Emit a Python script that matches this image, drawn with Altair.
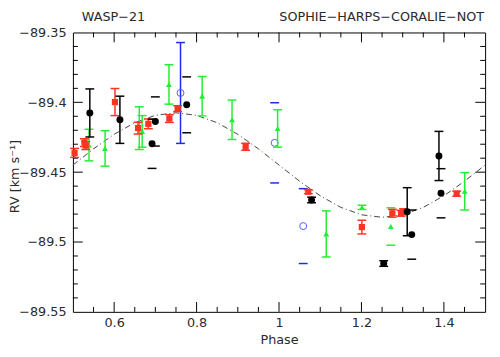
import altair as alt
import pandas as pd

# ---------------- data ----------------
# red filled squares
red_phase = [0.504, 0.528, 0.531, 0.602, 0.658, 0.683, 0.734, 0.754, 0.919, 1.071, 1.201, 1.275, 1.296, 1.302, 1.431]
red_rv = [-89.4362, -89.4288, -89.4310, -89.3998, -89.4184, -89.4154, -89.4116, -89.4045, -89.4318, -89.4640, -89.4893, -89.4794, -89.4794, -89.4783, -89.4654]
red_err = [0.0032, 0.0028, 0.0028, 0.0097, 0.0042, 0.0035, 0.0028, 0.0021, 0.0025, 0.0014, 0.0049, 0.0028, 0.0021, 0.0021, 0.0018]
red_line = [True] * 15

# black filled circles
blk_phase = [0.541, 0.614, 0.692, 0.700, 0.776, 1.079, 1.254, 1.311, 1.322, 1.388, 1.393]
blk_rv = [-89.4076, -89.4125, -89.4297, -89.4137, -89.4018, -89.4699, -89.5154, -89.4783, -89.4947, -89.4384, -89.4651]
blk_err = [0.0172, 0.0169, 0.0176, 0.0176, 0.0200, 0.0020, 0.0020, 0.0172, 0.0176, 0.0176, 0.0176]
blk_line = [True, True, False, False, False, False, False, True, False, True, False]

# green filled triangles
grn_phase = [0.539, 0.578, 0.661, 0.668, 0.733, 0.8135, 0.886, 0.9966, 1.1146, 1.2013, 1.2713, 1.4505]
grn_rv = [-89.4306, -89.4330, -89.4185, -89.4208, -89.3872, -89.3956, -89.4125, -89.4187, -89.4942, -89.4752, -89.4889, -89.4637]
grn_err = [0.0113, 0.0127, 0.0153, 0.0113, 0.0141, 0.0141, 0.0141, 0.0134, 0.0165, 0.0015, 0.0134, 0.0134]
grn_line = [True, True, True, True, True, True, True, True, True, False, False, True]

# blue open circles
blu_phase = [0.761, 0.9894, 1.0587]
blu_rv = [-89.3933, -89.4290, -89.4886]
blu_err = [0.0361, 0.0287, 0.0268]
blu_line = [True, False, False]

# model curve (read at regular phase steps)
curve_phase = [0.50, 0.55, 0.60, 0.65, 0.70, 0.75, 0.80, 0.85, 0.90, 0.95, 1.00,
               1.05, 1.10, 1.15, 1.20, 1.25, 1.30, 1.35, 1.40, 1.45, 1.50]
curve_rv = [-89.4449, -89.4333, -89.4229, -89.4146, -89.4093, -89.4075, -89.4093, -89.4146,
            -89.4229, -89.4333, -89.4449, -89.4565, -89.4669, -89.4752, -89.4805, -89.4823,
            -89.4805, -89.4752, -89.4669, -89.4565, -89.4449]

# axis ticks
x_domain = [0.5, 1.5]
y_domain = [-89.55, -89.35]
x_major = [0.6, 0.8, 1.0, 1.2, 1.4]
x_minor = [0.55, 0.65, 0.7, 0.75, 0.85, 0.9, 0.95, 1.05, 1.1, 1.15, 1.25, 1.3, 1.35, 1.45]
y_labels = [-89.55, -89.5, -89.45, -89.4, -89.35]
y_major = [-89.5, -89.45, -89.4]
y_minor = [-89.54, -89.53, -89.52, -89.51, -89.49, -89.48, -89.47, -89.46,
           -89.44, -89.43, -89.42, -89.41, -89.39, -89.38, -89.37, -89.36]

title_left = "WASP−21"
title_right = "SOPHIE−HARPS−CORALIE−NOT"

# ---------------- chart ----------------
FONT = "DejaVu Sans"
TXT = "#2a2a2a"
W, H = 419, 284
MAJ, MIN = 10, 5  # tick lengths in pixels
DX = (x_domain[1] - x_domain[0]) / W  # data units per pixel
DY = (y_domain[1] - y_domain[0]) / H
xs = alt.Scale(domain=x_domain, nice=False, zero=False)
ys = alt.Scale(domain=y_domain, nice=False, zero=False)

AX = alt.Axis(orient="bottom", values=x_major, format="~g", ticks=False, domain=False, grid=False,
              labelPadding=5, title="Phase", titlePadding=4, titleFontWeight="normal",
              titleFontSize=13, titleFont=FONT, titleColor=TXT)
AY = alt.Axis(orient="left", values=y_labels, format="~g", ticks=False, domain=False, grid=False,
              labelPadding=7, title="RV [km s⁻¹]", titleX=-52, titleY=146, titleFontWeight="normal",
              titleFontSize=13, titleFont=FONT, titleColor=TXT)


def X(field):
    return alt.X(field, scale=xs, axis=AX)


def Y(field):
    return alt.Y(field, scale=ys, axis=AY)


# every mark comes from one table, tagged by kind
rows = []


def add_series(kind, phase, rv, err, line):
    for p, v, e, l in zip(phase, rv, err, line):
        rows.append({"kind": kind, "phase": p, "rv": v, "lo": v - e, "hi": v + e, "line": l,
                     "p2": p})


add_series("blue", blu_phase, blu_rv, blu_err, blu_line)
add_series("green", grn_phase, grn_rv, grn_err, grn_line)
add_series("red", red_phase, red_rv, red_err, red_line)
add_series("black", blk_phase, blk_rv, blk_err, blk_line)

# inward frame ticks: segments (phase -> p2, lo -> hi) in data units
for vals, size in ((x_major, MAJ), (x_minor, MIN)):
    for v in vals:
        rows.append({"kind": "tick", "phase": v, "p2": v, "rv": y_domain[0],
                     "lo": y_domain[0], "hi": y_domain[0] + size * DY, "line": True})
        rows.append({"kind": "tick", "phase": v, "p2": v, "rv": y_domain[1],
                     "lo": y_domain[1] - size * DY, "hi": y_domain[1], "line": True})
for vals, size in ((y_major, MAJ), (y_minor, MIN)):
    for v in vals:
        rows.append({"kind": "tick", "phase": x_domain[0], "p2": x_domain[0] + size * DX, "rv": v,
                     "lo": v, "hi": v, "line": True})
        rows.append({"kind": "tick", "phase": x_domain[1] - size * DX, "p2": x_domain[1], "rv": v,
                     "lo": v, "hi": v, "line": True})

all_df = pd.DataFrame(rows)
base = alt.Chart(all_df)
curve_df = pd.DataFrame({"phase": curve_phase, "rv": curve_rv})

curve = alt.Chart(curve_df).mark_line(color="#444444", strokeWidth=1, strokeDash=[6, 3, 1, 3]).encode(
    x=X("phase:Q"), y=Y("rv:Q")
)

ticks = base.transform_filter("datum.kind == 'tick'").mark_rule(color="#000000", strokeWidth=1).encode(
    x=X("phase:Q"), x2="p2:Q", y=Y("lo:Q"), y2="hi:Q"
)


def series(kind, color, point_mark):
    sub = base.transform_filter(f"datum.kind == '{kind}'")
    bars = sub.transform_filter("datum.line").mark_rule(color=color, strokeWidth=1.5).encode(
        x=X("phase:Q"), y=Y("lo:Q"), y2="hi:Q"
    )
    cap_lo = sub.mark_tick(color=color, orient="horizontal", size=9, thickness=1.5, opacity=1).encode(
        x=X("phase:Q"), y=Y("lo:Q")
    )
    cap_hi = sub.mark_tick(color=color, orient="horizontal", size=9, thickness=1.5, opacity=1).encode(
        x=X("phase:Q"), y=Y("hi:Q")
    )
    pts = point_mark(sub).encode(x=X("phase:Q"), y=Y("rv:Q"))
    return [bars, cap_lo, cap_hi, pts]


BLUE, GREEN, RED, BLACK = "#1a2aee", "#22ee33", "#ff3322", "#000000"
layers = []
layers += series("blue", BLUE, lambda b: b.mark_point(shape="circle", filled=False, size=50,
                                                      color="#4d5eff", strokeWidth=1, opacity=1))
layers += series("green", GREEN, lambda b: b.mark_point(shape="triangle-up", filled=True, size=36,
                                                        color=GREEN, opacity=1))
layers += series("red", RED, lambda b: b.mark_square(size=40, color=RED, opacity=1))
layers += series("black", BLACK, lambda b: b.mark_circle(size=50, color=BLACK, opacity=1))

titles_df = pd.DataFrame({"t": [title_left]})
titles_df2 = pd.DataFrame({"t": [title_right]})
t_left = alt.Chart(titles_df).mark_text(align="left", baseline="alphabetic", font=FONT, fontSize=13,
                                        color=TXT).encode(x=alt.value(9), y=alt.value(-12), text="t:N")
t_right = alt.Chart(titles_df2).mark_text(align="right", baseline="alphabetic", font=FONT, fontSize=13,
                                          color=TXT).encode(x=alt.value(418), y=alt.value(-12), text="t:N")

chart = alt.layer(curve, ticks, *layers, t_left, t_right).properties(
    width=W, height=H,
    autosize=alt.AutoSizeParams(type="none"),
    padding={"left": 66, "top": 22, "right": 7, "bottom": 43},
    background="white",
).configure_view(stroke="black", strokeWidth=1).configure_axis(
    labelFont=FONT, labelFontSize=13, labelColor=TXT, titleFont=FONT
)

chart.save("out.html", embed_options={"renderer": "svg", "actions": False})
